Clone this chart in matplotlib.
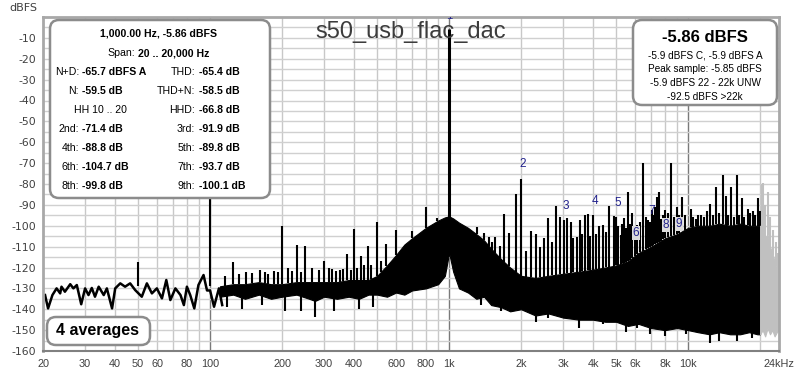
import numpy as np
import matplotlib
matplotlib.use("Agg")
import matplotlib.pyplot as plt
from matplotlib.patches import FancyBboxPatch

# low frequency trace (Hz, dBFS)
lf_freq = [20.4, 21.0, 21.9, 22.8, 23.6, 23.9, 24.7, 26.0, 26.8, 27.7, 28.9, 30.0,
           31.0, 32.0, 33.0, 34.2, 35.9, 37.0, 38.9, 40.1, 42.1, 44.1, 46.3, 48.6,
           51.8, 54.4, 57.1, 59.9, 62.9, 65.6, 68.2, 71.6, 75.2, 77.7, 80.0, 82.6,
           85.9, 89.4, 93.9, 97.1, 100.0, 103.9, 108.9, 112.4]
lf_level = [-133.2, -139.6, -133.2, -130.0, -132.4, -129.2, -131.6, -128.0, -130.0, -128.4, -137.6, -130.0,
            -133.2, -129.8, -134.0, -129.2, -133.2, -130.0, -139.6, -130.0, -127.6, -129.2, -127.6, -130.8,
            -134.0, -127.6, -132.4, -130.0, -134.8, -126.0, -135.6, -130.0, -133.2, -138.0, -129.2, -133.2,
            -139.6, -128.4, -123.6, -131.0, -131.0, -138.8, -130.0, -138.0]

# dense noise band (Hz, lower / upper edge dBFS)
band_freq = [110, 125, 140, 160, 180, 200, 230, 260, 275, 300, 340, 380, 420, 460, 500,
             550, 600, 650, 700, 800, 900, 960, 1000, 1040, 1100, 1200, 1300, 1400, 1500,
             1650, 1800, 2000, 2300, 2600, 3000, 3500, 4000, 4500, 5000, 5600, 6200, 7000,
             8000, 9000, 10000, 11000, 12300, 13500, 15000, 16500, 18000, 19500, 20000]
band_lo = [-134, -133, -135, -133, -135, -134, -133, -135, -136, -134, -135, -134, -135, -133, -133,
           -134, -132, -133, -131, -130, -128, -124, -113, -122, -130, -132, -135, -134, -138,
           -139, -141, -140, -143, -142, -144, -145, -145, -146, -146, -148, -147, -149,
           -150, -149, -150, -151, -152, -151, -152, -152, -151, -152, -152]
band_hi = [-129, -128, -128, -127, -128, -128, -127, -127, -127, -127, -127, -126, -126, -126, -124,
           -119, -114, -109, -106, -101, -97.5, -96, -95.5, -96.5, -98.5, -101, -104, -107, -111,
           -116, -120, -124, -125, -124, -123, -122, -121, -120, -119, -117, -113, -110,
           -106, -104, -101, -100, -100, -99, -100, -99, -100, -100, -100]

# downward spikes below the noise band
dip_freq = [118, 136, 165, 205, 240, 275, 330, 420, 480, 1360, 1650, 2300, 2600, 3500, 4400,
            5500, 6100, 6900, 8000, 9800, 12300, 13400, 16000, 18500]
dip_level = [-139, -140, -138, -141, -141, -143.6, -141, -140, -139, -138, -141, -146, -144, -149, -147,
             -151, -149, -152, -153, -152, -156, -155, -155, -154]

# discrete spurs (Hz, peak dBFS)
spur_freq = [50, 100, 115, 125, 132, 142, 150, 161, 170, 175, 185, 192, 200, 212, 220, 230, 240,
             250, 267, 285, 300, 315, 323, 335, 350, 360, 375, 390, 401, 410, 426, 440, 458, 470,
             500, 520, 545, 600, 700, 800, 890,
             1303, 1399, 1467, 1517, 1556, 1632, 1702, 1780, 1899, 2005, 2100, 2193, 2302, 2400,
             2495, 2594, 2700, 2793, 2903, 3027, 3105, 3228, 3300, 3420, 3532, 3600, 3708, 3814,
             3900, 4018, 4100, 4240, 4425, 4550, 4670, 4900, 5014, 5100, 5227, 5300, 5396, 5500,
             5610, 5700, 5851, 6000, 6100, 6300, 6482, 6650, 6803, 6900, 7048, 7150, 7250, 7400,
             7567, 7700, 7850, 8016, 8200, 8493, 8700, 8948, 9200, 9418, 9700, 10260, 10500,
             10800, 11000, 11300, 11600, 12000, 12330, 12700, 13070, 13500, 13950, 14390, 14700,
             15100, 15500, 15960, 16400, 16800, 17200, 17750, 18100, 18620, 19000, 19550, 19900]
spur_level = [-117.2, -86.8, -124, -117.4, -123, -122, -122.5, -121, -122, -123, -121.5, -122, -100.1,
              -120, -121.5, -109.3, -122, -109.6, -120, -121, -117, -120, -120.5, -121.5, -121, -120.5,
              -113.5, -121, -101.6, -120, -114.7, -119, -109.7, -119, -98.4, -117, -108.8, -102,
              -102.7, -91, -96.5,
              -100.6, -103.5, -105.4, -108, -105.2, -109.7, -94.4, -103.5, -84.9, -77.6, -112, -102.7, -104, -110,
              -106, -96.4, -108, -90.5, -95.7, -97.3, -96.2, -98.1, -106, -105.3, -97.3, -104, -94.9, -94.4,
              -105, -95, -104, -100, -99.6, -103, -90.5, -95.3, -95.7, -100, -104.6, -99, -96.4, -101,
              -83.7, -99, -94, -100, -99.6, -98, -70.1, -96, -97.3, -98, -92.5, -95, -91, -86.4,
              -83.7, -97, -95, -92.5, -94, -70.1, -96, -91, -95, -86.4, -95, -91.8, -96,
              -97, -95, -94.9, -96, -93, -89.4, -95, -81.3, -94, -75.7, -85.9, -95,
              -81.3, -96, -75.7, -95, -86.6, -96, -91.8, -94, -92.9, -95, -86.6, -93]

fund_freq = 1000
fund_level = -5.86

# region above 20 kHz (grey)
grey_freq = [20000, 20500, 21000, 21500, 22000, 22500, 23000, 23500, 24000]
grey_lo = [-152, -150, -153, -149, -152, -150, -153, -151, -150]
grey_hi = [-100, -102, -106, -104, -110, -113, -117, -121, -126]
grey_spur_freq = [20300, 20630, 21000, 21530, 22100, 22600, 23300, 23800]
grey_spur_level = [-80, -79.7, -90, -83.7, -96, -102, -108, -113]

# harmonic markers
harm_labels = ["2", "3", "4", "5", "6", "7", "8", "9"]
harm_freq = [2031, 3076, 4067, 5079, 6040, 7048, 8068, 9142]
harm_level = [-70.4, -90.5, -88.0, -89.0, -103.5, -93.0, -99.6, -99.2]

xtick_freq = [20, 30, 40, 50, 60, 80, 100, 200, 300, 400, 600, 800, 1000, 2000, 3000,
              4000, 5000, 6000, 8000, 10000, 24000]
xtick_labels = ["20", "30", "40", "50", "60", "80", "100", "200", "300", "400", "600", "800", "1k",
                "2k", "3k", "4k", "5k", "6k", "8k", "10k", "24kHz"]
ytick_vals = list(range(-160, 0, 10))

left_labels = ["N+D:", "N:", "", "2nd:", "4th:", "6th:", "8th:"]
left_values = ["-65.7 dBFS A", "-59.5 dB", "", "-71.4 dB", "-88.8 dB", "-104.7 dB", "-99.8 dB"]
right_labels = ["THD:", "THD+N:", "HHD:", "3rd:", "5th:", "7th:", "9th:"]
right_values = ["-65.4 dB", "-58.5 dB", "-66.8 dB", "-91.9 dB", "-89.8 dB", "-93.7 dB", "-100.1 dB"]
level_lines = ["-5.9 dBFS C, -5.9 dBFS A", "Peak sample: -5.85 dBFS",
               "-5.9 dBFS 22 - 22k UNW", "-92.5 dBFS >22k"]

W, H = 800, 375
plt.rcParams['font.family'] = ['Liberation Sans', 'DejaVu Sans']
fig = plt.figure(figsize=(W / 100, H / 100), dpi=100)
ax = fig.add_axes([43 / W, 1 - 351 / H, (779 - 43) / W, (351 - 17) / H])
ax.set_xscale("log")
ax.set_xlim(20, 24000)
ax.set_ylim(-160, 0)

# grid
for d in [10, 100, 1000, 10000]:
    for m in range(1, 10):
        f = d * m
        if f <= 20 or f >= 24000:
            continue
        major = f in (100, 1000, 10000)
        ax.axvline(f, color="#7a7a7a" if major else "#c8c8c8", lw=1.0, zorder=0)
for y in range(-155, 0, 5):
    ax.axhline(y, color="#d0d0d0", lw=1.0, zorder=0)

# spectrum
ax.plot(lf_freq, lf_level, color="black", lw=1.8, zorder=2)
ax.fill_between(band_freq, band_lo, band_hi, color="black", lw=0.8, zorder=2)
base = np.interp(np.log10(spur_freq), np.log10(band_freq), band_hi)
ax.vlines(spur_freq, base, spur_level, color="black", lw=1.5, zorder=2)
dbase = np.interp(np.log10(dip_freq), np.log10(band_freq), band_lo)
ax.vlines(dip_freq, dbase, dip_level, color="black", lw=1.5, zorder=2)
ax.vlines(fund_freq, -113, fund_level, color="black", lw=2.2, zorder=2)
ax.fill_between(grey_freq, grey_lo, grey_hi, color="#c0c0c0", lw=0.8, zorder=2)
gbase = np.interp(np.log10(grey_spur_freq), np.log10(grey_freq), grey_hi)
ax.vlines(grey_spur_freq, gbase, grey_spur_level, color="#c0c0c0", lw=1.5, zorder=2)

for lab, f, lv in zip(harm_labels, harm_freq, harm_level):
    bg = dict(facecolor="#dcdcdc", edgecolor="none", pad=0.6) if lab in ("6", "8", "9") else None
    ax.text(f, lv, lab, color="#22228c", fontsize=8.5, ha="center", va="center", bbox=bg, zorder=4)
ax.text(1000, 0.5, "1", color="#22228c", fontsize=8, ha="center", va="center", clip_on=True, zorder=4)

ax.set_xticks(xtick_freq, xtick_labels)
ax.set_xticks([], minor=True)
ax.set_yticks(ytick_vals, [str(v) for v in ytick_vals])
ax.tick_params(length=0, labelcolor="#404040")
ax.tick_params(axis="x", pad=6, labelsize=7.8)
ax.tick_params(axis="y", pad=5)
for lab in ax.get_yticklabels():
    lab.set_fontfamily("DejaVu Sans")
    lab.set_fontsize(7.8)
for s in ["left", "top", "right"]:
    ax.spines[s].set_color("#a8a8a8")
    ax.spines[s].set_linewidth(2)
ax.spines["bottom"].set_color("#808080")
ax.spines["bottom"].set_linewidth(1.5)

ax.text(0.5, 1 - 15 / 334, "s50_usb_flac_dac", transform=ax.transAxes, ha="center", va="center",
        fontsize=17, color="#3c3c3c", zorder=6)


def px(x, y):
    return x / W, 1 - y / H


def rbox(x0, y0, x1, y1):
    p = FancyBboxPatch((x0 / 100, (H - y1) / 100), (x1 - x0) / 100, (y1 - y0) / 100,
                       boxstyle="round,pad=0,rounding_size=0.09", transform=fig.dpi_scale_trans,
                       facecolor="white", edgecolor="#8c8c8c", lw=1.8, zorder=5)
    fig.add_artist(p)


fig.text(*px(23, 8), "dBFS", ha="center", va="center", fontsize=8, color="#404040",
         family="DejaVu Sans")

# left info box
rbox(50, 20, 270, 198)
fs = 7.6
fig.text(*px(158, 34), "1,000.00 Hz, -5.86 dBFS", ha="center", va="center", fontsize=fs,
         weight="bold", zorder=6)
fig.text(*px(135, 53), "Span:", ha="right", va="center", fontsize=fs, zorder=6)
fig.text(*px(138, 53), "20 .. 20,000 Hz", ha="left", va="center", fontsize=fs, weight="bold", zorder=6)
rows_y = [72, 91, 110, 129, 148, 167, 186]
for i, y in enumerate(rows_y):
    if left_labels[i]:
        fig.text(*px(79, y), left_labels[i], ha="right", va="center", fontsize=fs, zorder=6)
        fig.text(*px(82, y), left_values[i], ha="left", va="center", fontsize=fs, weight="bold", zorder=6)
    fig.text(*px(195, y), right_labels[i], ha="right", va="center", fontsize=fs, zorder=6)
    fig.text(*px(199, y), right_values[i], ha="left", va="center", fontsize=fs, weight="bold", zorder=6)
fig.text(*px(100, 110), "HH 10 .. 20", ha="center", va="center", fontsize=fs, zorder=6)

# right level box
rbox(633, 20, 777, 105)
fig.text(*px(705, 37), "-5.86 dBFS", ha="center", va="center", fontsize=12, weight="bold", zorder=6)
for y, s in zip([55, 69, 83, 97], level_lines):
    fig.text(*px(705, y), s, ha="center", va="center", fontsize=7.2, zorder=6)

# averages box
rbox(47, 317, 150, 345)
fig.text(*px(98, 331), "4 averages", ha="center", va="center", fontsize=11.5, weight="bold", zorder=6)

fig.savefig("out.png", dpi=100, facecolor="white")
